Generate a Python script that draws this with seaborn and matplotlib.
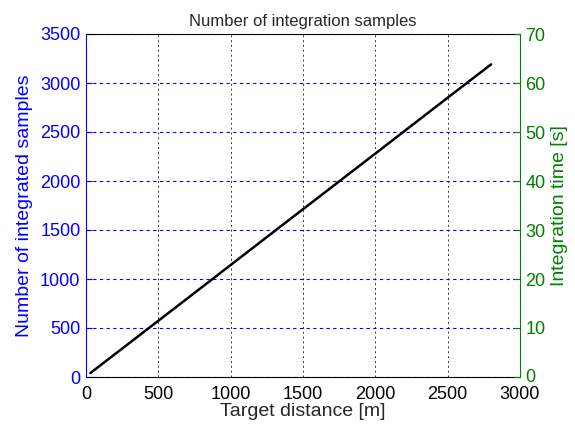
import matplotlib
matplotlib.use("Agg")
import matplotlib.pyplot as plt
import matplotlib.transforms as mtransforms
import seaborn as sns
import pandas as pd

distance = [30, 250, 500, 750, 1000, 1250, 1500, 1750, 2000, 2250, 2500, 2650, 2800]
samples = [40, 290, 574, 858, 1143, 1428, 1712, 1996, 2280, 2565, 2850, 3020, 3190]
left_ticks = [0, 500, 1000, 1500, 2000, 2500, 3000, 3500]
right_ticks = [0, 10, 20, 30, 40, 50, 60, 70]
x_ticks = [0, 500, 1000, 1500, 2000, 2500, 3000]

df = pd.DataFrame({"distance": distance, "samples": samples})

sns.set_style("white")
plt.rcParams["font.family"] = ["Liberation Sans", "DejaVu Sans"]
plt.rcParams["font.size"] = 13

fig = plt.figure(figsize=(5.75, 4.28), dpi=100)
ax = fig.add_axes([86/575, 1-377/428, 434/575, 343/428])

blue = "#0000ff"
green = "#008000"

sns.lineplot(data=df, x="distance", y="samples", ax=ax, color="black", linewidth=1.8)
ax.set_xlim(0, 3000)
ax.set_ylim(0, 3500)
ax.set_xticks(x_ticks)
ax.set_yticks(left_ticks)
ax.yaxis.grid(True, color=blue, linestyle=(0, (3, 3)), linewidth=0.8)
ax.xaxis.grid(True, color="black", linestyle=(0, (2, 3)), linewidth=0.7, alpha=0.8)
ax.set_axisbelow(True)
ax.tick_params(axis="both", direction="in", length=4, labelsize=13)
ax.tick_params(axis="y", colors=blue, labelcolor=blue, pad=4)
ax.tick_params(axis="x", colors="black", pad=6.5)
ax.set_xlabel("Target distance [m]", fontsize=14, labelpad=0)
ax.set_ylabel("Number of integrated samples", color=blue, fontsize=14, labelpad=5)
ax.set_title("Number of integration samples", fontsize=12, pad=6)
for s in ["top", "bottom"]:
    ax.spines[s].set_color("black")
ax.spines["left"].set_color(blue)
ax.spines["right"].set_visible(False)

ax2 = ax.twinx()
ax2.set_ylim(0, 70)
ax2.set_yticks(right_ticks)
ax2.tick_params(axis="y", direction="in", length=4, colors=green, labelcolor=green, labelsize=13, pad=4)
ax2.set_ylabel("Integration time [s]", color=green, fontsize=14, labelpad=4)
ax2.spines["right"].set_color(green)
for s in ["left", "top", "bottom"]:
    ax2.spines[s].set_visible(False)

# lift the right-axis "0" label slightly, as in the reference
fig.canvas.draw()
zero_lbl = ax2.get_yticklabels()[0]
zero_lbl.set_transform(zero_lbl.get_transform() + mtransforms.ScaledTranslation(0, 2/100, fig.dpi_scale_trans))

fig.savefig("out.png", dpi=100)
